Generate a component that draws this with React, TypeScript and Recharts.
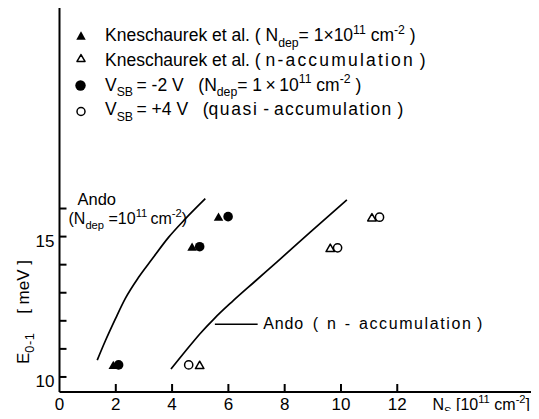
import React from 'react';
import { ComposedChart, Line, Scatter, XAxis, YAxis, ReferenceLine, ReferenceDot } from 'recharts';

const FONT = '"Liberation Sans", Arial, sans-serif';

// ---- axes ----
const xTicks = [0, 2, 4, 6, 8, 10, 12];
const yTicks = [10, 11, 12, 13, 14, 15, 16];
const yTickLabels = [10, 15];
const xDomain = [0, 17];
const yDomain = [9.464, 23.25];

// ---- measured points (N_s [1e11 cm^-2], E_0-1 [meV]) ----
const kneschDepX = [1.91, 4.71, 5.65];
const kneschDepY = [10.43, 14.64, 15.71];
const kneschAccX = [4.98, 9.62, 11.1];
const kneschAccY = [10.43, 14.6, 15.69];
const vsbMinus2X = [2.1, 4.98, 5.99];
const vsbMinus2Y = [10.43, 14.64, 15.71];
const vsbPlus4X = [4.59, 9.88, 11.37];
const vsbPlus4Y = [10.43, 14.6, 15.69];

// ---- Ando theory curves ----
const andoDepX = [1.34, 1.63, 1.99, 2.34, 2.81, 3.29, 3.88, 4.47, 5.18];
const andoDepY = [10.6, 11.29, 12.08, 12.8, 13.55, 14.2, 14.98, 15.63, 16.35];
const andoAccX = [3.96, 4.5, 5.0, 5.5, 6.11, 6.94, 7.73, 8.91, 10.21];
const andoAccY = [10.28, 10.95, 11.55, 12.08, 12.66, 13.4, 14.1, 15.16, 16.31];

type Seg = { t: string; k?: 'sub' | 'sup'; ls?: number };

// ---- texts ----
const legendRows: Seg[][] = [
  [{ t: 'Kneschaurek et al. ( N' }, { t: 'dep', k: 'sub' }, { t: '= 1×10' }, { t: '11', k: 'sup' }, { t: ' cm' }, { t: '-2', k: 'sup' }, { t: ' )' }],
  [{ t: 'Kneschaurek et al. ( ' }, { t: 'n-accumulation', ls: 2.2 }, { t: ' )' }],
  [{ t: 'V' }, { t: 'SB', k: 'sub' }, { t: '\u2009= -2 V   (N' }, { t: 'dep', k: 'sub' }, { t: '= 1\u2009×\u200910' }, { t: '11', k: 'sup' }, { t: ' cm' }, { t: '-2', k: 'sup' }, { t: ' )' }],
  [{ t: 'V' }, { t: 'SB', k: 'sub' }, { t: '\u2009= +4 V   (' }, { t: 'quasi', ls: 1.6 }, { t: ' - ' }, { t: 'accumulation', ls: 1.3 }, { t: ' )' }],
];
const andoDepTitle: Seg[] = [{ t: 'Ando' }];
const andoDepNote: Seg[] = [{ t: '(N' }, { t: 'dep', k: 'sub' }, { t: ' =10' }, { t: '11', k: 'sup' }, { t: '\u2009cm' }, { t: '-2', k: 'sup' }, { t: ')' }];
const andoAccNote: Seg[] = [{ t: 'Ando', ls: 0.8 }, { t: '  (  n  -  ' }, { t: 'accumulation', ls: 1.6 }, { t: ' )' }];
const yLabel: Seg[] = [{ t: 'E' }, { t: '0-1', k: 'sub', ls: 0.5 }, { t: '    [ meV ]' }];
const xLabel: Seg[] = [{ t: 'N' }, { t: 'S', k: 'sub' }, { t: ' [10' }, { t: '11', k: 'sup' }, { t: ' cm' }, { t: '-2', k: 'sup' }, { t: ']' }];

// ---- layout constants (shared by the chart and the axis-frame overlay) ----
const W = 539;
const H = 419;
const MARGIN = { top: 5, right: 1, left: 0, bottom: 0 };
const Y_AXIS_W = 59.5;
const X_AXIS_H = 27;
const PLOT = {
  left: MARGIN.left + Y_AXIS_W,
  right: W - MARGIN.right,
  top: MARGIN.top,
  bottom: H - MARGIN.bottom - X_AXIS_H,
};
const xPx = (v: number) => PLOT.left + ((v - xDomain[0]) / (xDomain[1] - xDomain[0])) * (PLOT.right - PLOT.left);
const yPx = (v: number) => PLOT.bottom - ((v - yDomain[0]) / (yDomain[1] - yDomain[0])) * (PLOT.bottom - PLOT.top);

const toPts = (xs: number[], ys: number[]) => xs.map((x, i) => ({ x, y: ys[i] }));

function Rich({ x, y, segs, size, rotate, subScale = 0.7 }: { x: number; y: number; segs: Seg[]; size: number; rotate?: boolean; subScale?: number }) {
  let shift = 0;
  const kids = segs.map((s, i) => {
    const target = s.k === 'sub' ? size * 0.32 : s.k === 'sup' ? -size * 0.42 : 0;
    const dy = target - shift;
    shift = target;
    return (
      <tspan key={i} dy={dy} fontSize={s.k ? size * subScale : size} letterSpacing={s.ls}>
        {s.t}
      </tspan>
    );
  });
  return (
    <text
      x={x}
      y={y}
      fontSize={size}
      fill="#000"
      fontFamily={FONT}
      style={{ whiteSpace: 'pre' }}
      transform={rotate ? `rotate(-90 ${x} ${y})` : undefined}
    >
      {kids}
    </text>
  );
}

const triPts = (cx: number, cy: number, s: number) => {
  const h = s * 0.87;
  return `${cx - s / 2},${cy + h / 2} ${cx + s / 2},${cy + h / 2} ${cx},${cy - h / 2}`;
};
const FilledTri = (p: any) => <polygon points={triPts(p.cx, p.cy, p.s || 9.5)} fill="#000" />;
const OpenTri = (p: any) => (
  <polygon points={triPts(p.cx, p.cy, p.s || 8.5)} fill="none" stroke="#000" strokeWidth={1.5} strokeLinejoin="round" />
);
const FilledCirc = (p: any) => <circle cx={p.cx} cy={p.cy} r={p.r || 4.8} fill="#000" />;
const OpenCirc = (p: any) => <circle cx={p.cx} cy={p.cy} r={p.r || 4.1} fill="none" stroke="#000" strokeWidth={1.5} />;

const YTick = (props: any) => {
  const { x, y, payload } = props;
  if (!yTickLabels.includes(payload.value)) return <g />;
  return (
    <text x={x - 5} y={y + 10} textAnchor="end" fontSize={17} fill="#000" fontFamily={FONT}>
      {payload.value}
    </text>
  );
};

const XTick = (props: any) => {
  const { x, y, payload } = props;
  return (
    <text x={x} y={y + 18} textAnchor="middle" fontSize={17} fill="#000" fontFamily={FONT}>
      {payload.value}
    </text>
  );
};

const YLabel = (props: any) => {
  const vb = props.viewBox || { x: 0, y: 0, width: 0, height: 0 };
  return <Rich x={vb.x + 29} y={vb.y + vb.height - 28} segs={yLabel} size={17} rotate subScale={0.75} />;
};
const XLabel = (props: any) => {
  const vb = props.viewBox || { x: 0, y: 0, width: 0, height: 0 };
  return <Rich x={vb.x + 373} y={vb.y + 18} segs={xLabel} size={16} />;
};
const AnnoLabel = (props: any) => {
  const vb = props.viewBox || { x: 0, y: 0 };
  return <Rich x={vb.x} y={vb.y} segs={props.segs} size={props.size || 16} />;
};

export default function App() {
  return (
    <div style={{ position: 'relative', width: W, height: H, margin: -8, background: '#fff' }}>
      <ComposedChart width={W} height={H} margin={MARGIN} style={{ fontFamily: FONT }}>
        <XAxis
          type="number"
          dataKey="x"
          domain={xDomain}
          ticks={xTicks}
          interval={0}
          height={X_AXIS_H}
          tickSize={0}
          tickMargin={0}
          tickLine={false}
          tick={<XTick />}
          axisLine={{ stroke: '#000', strokeWidth: 2 }}
          label={<XLabel />}
        />
        <YAxis
          type="number"
          dataKey="y"
          domain={yDomain}
          ticks={yTicks}
          interval={0}
          width={Y_AXIS_W}
          tickSize={0}
          tickMargin={0}
          tickLine={false}
          tick={<YTick />}
          axisLine={{ stroke: '#000', strokeWidth: 2 }}
          label={<YLabel />}
        />
        <Line data={toPts(andoDepX, andoDepY)} dataKey="y" type="monotone" stroke="#000" strokeWidth={1.7} dot={false} isAnimationActive={false} />
        <Line data={toPts(andoAccX, andoAccY)} dataKey="y" type="monotone" stroke="#000" strokeWidth={1.7} dot={false} isAnimationActive={false} />
        <Scatter data={toPts(kneschDepX, kneschDepY)} dataKey="y" shape={FilledTri} isAnimationActive={false} />
        <Scatter data={toPts(kneschAccX, kneschAccY)} dataKey="y" shape={OpenTri} isAnimationActive={false} />
        <Scatter data={toPts(vsbMinus2X, vsbMinus2Y)} dataKey="y" shape={FilledCirc} isAnimationActive={false} />
        <Scatter data={toPts(vsbPlus4X, vsbPlus4Y)} dataKey="y" shape={OpenCirc} isAnimationActive={false} />
        <ReferenceLine segment={[{ x: 5.52, y: 11.88 }, { x: 7.04, y: 11.88 }]} stroke="#000" strokeWidth={1.5} />
        <ReferenceDot x={0.64} y={16.14} r={0} stroke="none" fill="none" label={<AnnoLabel segs={andoDepTitle} size={16.5} />} />
        <ReferenceDot x={0.32} y={15.46} r={0} stroke="none" fill="none" label={<AnnoLabel segs={andoDepNote} size={16} />} />
        <ReferenceDot x={7.24} y={11.71} r={0} stroke="none" fill="none" label={<AnnoLabel segs={andoAccNote} />} />
      </ComposedChart>
      <svg width={W} height={H} style={{ position: 'absolute', left: 0, top: 0, pointerEvents: 'none' }}>
        {/* frame top edge and inward tick marks, placed with the same linear mapping as the axes */}
        <line x1={PLOT.left - 1} x2={PLOT.right} y1={PLOT.top} y2={PLOT.top} stroke="#000" strokeWidth={2} />
        {yTicks.map((v) => (
          <line key={'yt' + v} x1={PLOT.left} x2={PLOT.left + 7} y1={yPx(v)} y2={yPx(v)} stroke="#000" strokeWidth={2} />
        ))}
        {xTicks
          .filter((v) => v !== xDomain[0])
          .map((v) => (
            <line key={'xt' + v} x1={xPx(v)} x2={xPx(v)} y1={PLOT.bottom} y2={PLOT.bottom - 8} stroke="#000" strokeWidth={2} />
          ))}
        <FilledTri cx={81} cy={35.5} s={9.5} />
        <OpenTri cx={81} cy={58} s={8} />
        <FilledCirc cx={80.5} cy={85.5} r={5.2} />
        <OpenCirc cx={81} cy={111.5} r={4} />
        {legendRows.map((segs, i) => (
          <Rich key={i} x={105} y={[41, 65.5, 90.5, 115][i]} segs={segs} size={17.5} />
        ))}
      </svg>
    </div>
  );
}
